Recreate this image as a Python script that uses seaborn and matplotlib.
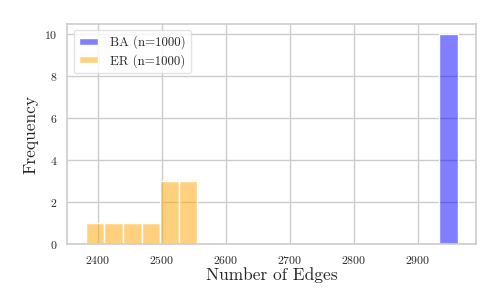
import matplotlib
matplotlib.use("Agg")
import matplotlib.pyplot as plt
import seaborn as sns
import pandas as pd

# Number of edges per sampled graph (10 graphs each)
ba_edges = [2962, 2962, 2962, 2962, 2962, 2962, 2962, 2962, 2962, 2962]
er_edges = [2381, 2425, 2452, 2483, 2505, 2512, 2520, 2533, 2540, 2548]
labels = ["BA (n=1000)", "ER (n=1000)"]
colors = ["blue", "orange"]
n_bins = 20

sns.set_style("whitegrid")
plt.rcParams["font.family"] = ["cmr10", "DejaVu Serif"]
plt.rcParams["axes.formatter.use_mathtext"] = True
plt.rcParams["mathtext.fontset"] = "cm"

df = pd.DataFrame({
    "edges": ba_edges + er_edges,
    "model": [labels[0]] * len(ba_edges) + [labels[1]] * len(er_edges),
})

fig = plt.figure(figsize=(4.98, 3.07), dpi=100)
ax = fig.add_axes([0.135, 0.205, 0.821, 0.717])
sns.histplot(data=df, x="edges", hue="model", hue_order=labels,
             palette=dict(zip(labels, colors)), bins=n_bins, alpha=0.5,
             edgecolor="white", linewidth=1.0, ax=ax, legend=True)

ax.set_xlabel("Number of Edges", fontsize=12.5, labelpad=1)
ax.set_ylabel("Frequency", fontsize=12.5, labelpad=4)
ax.tick_params(axis="both", labelsize=8.5, length=0, pad=7)
ax.set_yticks([0, 2, 4, 6, 8, 10])
ax.set_xticks([2400, 2500, 2600, 2700, 2800, 2900])
for s in ax.spines.values():
    s.set_color("#cccccc")
    s.set_linewidth(1.2)
ax.grid(color="#cccccc", linewidth=1.0)

sns.move_legend(ax, "upper left", title=None, fontsize=9.3,
                handlelength=1.5, handleheight=0.5, labelspacing=0.35,
                borderpad=0.4, handletextpad=0.9, frameon=True)
ax.get_legend().get_frame().set_edgecolor("#dddddd")

fig.savefig("out.png", dpi=100)
